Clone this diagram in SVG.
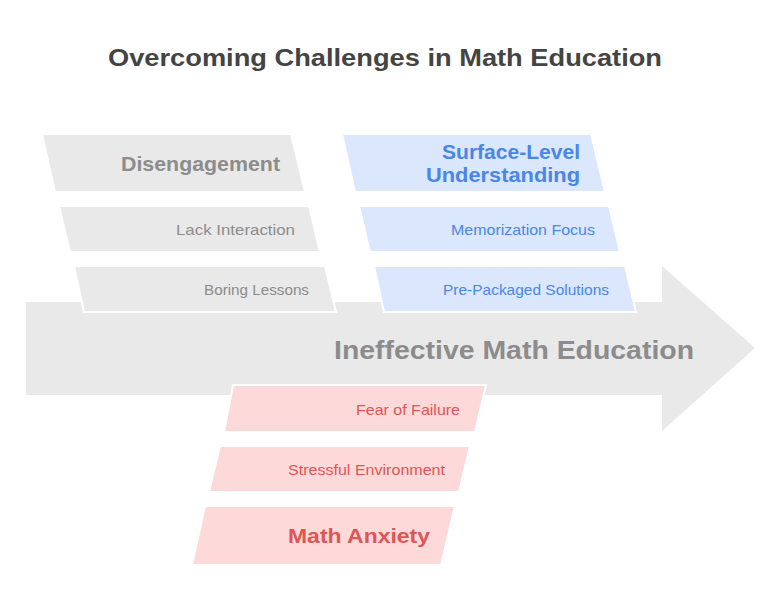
<svg xmlns="http://www.w3.org/2000/svg" width="782" height="615" viewBox="0 0 782 615">
<style>
.bg{fill:#ffffff}
.arrow{fill:#e9e9e9}
.g{fill:#e9e9e9;stroke:#ffffff;stroke-width:2}
.b{fill:#dbe7fd;stroke:#ffffff;stroke-width:2}
.r{fill:#fed9d9;stroke:#ffffff;stroke-width:2}
text{font-family:"Liberation Sans","DejaVu Sans",sans-serif}
.h{font-weight:bold;font-size:21px;text-anchor:end}
.s{font-size:15px;text-anchor:end}
.tg{fill:#8c8c8c}
.tb{fill:#4a86e8}
.tr{fill:#e05555}
.title{font-weight:bold;font-size:24px;fill:#444444;text-anchor:middle}
.main{font-weight:bold;font-size:25px;fill:#8c8c8c;text-anchor:end}
</style>
<rect class="bg" x="0" y="0" width="782" height="615"/>
<text class="title" x="385" y="66" textLength="554" lengthAdjust="spacingAndGlyphs">Overcoming Challenges in Math Education</text>
<g id="spine">
<polygon class="arrow" points="26,302 662,302 662,266 755,348 662,431 662,395 26,395"/>
<text class="main" x="694" y="359" textLength="360" lengthAdjust="spacingAndGlyphs">Ineffective Math Education</text>
</g>
<g id="connectors"></g>
<g id="disengagement">
<polygon class="g" points="42,134 291,134 305,192 55,192"/>
<text class="h tg" x="280" y="171" textLength="159" lengthAdjust="spacingAndGlyphs">Disengagement</text>
</g>
<g id="lack-interaction">
<polygon class="g" points="59,206 309,206 320,252 70,252"/>
<text class="s tg" x="295" y="235" textLength="119" lengthAdjust="spacingAndGlyphs">Lack Interaction</text>
</g>
<g id="boring-lessons">
<polygon class="g" points="74,266 325,266 336,312 84,312"/>
<text class="s tg" x="309" y="295" textLength="105" lengthAdjust="spacingAndGlyphs">Boring Lessons</text>
</g>
<g id="surface-level">
<polygon class="b" points="342,134 591,134 605,192 355,192"/>
<text class="h tb" x="580" y="159" textLength="138" lengthAdjust="spacingAndGlyphs">Surface-Level</text>
<text class="h tb" x="580" y="182" textLength="154" lengthAdjust="spacingAndGlyphs">Understanding</text>
</g>
<g id="memorization-focus">
<polygon class="b" points="359,206 609,206 620,252 370,252"/>
<text class="s tb" x="595" y="235" textLength="144" lengthAdjust="spacingAndGlyphs">Memorization Focus</text>
</g>
<g id="pre-packaged">
<polygon class="b" points="374,266 625,266 636,312 384,312"/>
<text class="s tb" x="609" y="295" textLength="166" lengthAdjust="spacingAndGlyphs">Pre-Packaged Solutions</text>
</g>
<g id="fear-of-failure">
<polygon class="r" points="233,385 486,385 475,432 224,432"/>
<text class="s tr" x="460" y="415" textLength="104" lengthAdjust="spacingAndGlyphs">Fear of Failure</text>
</g>
<g id="stressful-environment">
<polygon class="r" points="220,446 470,446 459,492 209,492"/>
<text class="s tr" x="445" y="475" textLength="157" lengthAdjust="spacingAndGlyphs">Stressful Environment</text>
</g>
<g id="math-anxiety">
<polygon class="r" points="205,506 455,506 441,565 192,565"/>
<text class="h tr" x="430" y="543" textLength="142" lengthAdjust="spacingAndGlyphs">Math Anxiety</text>
</g>
</svg>
